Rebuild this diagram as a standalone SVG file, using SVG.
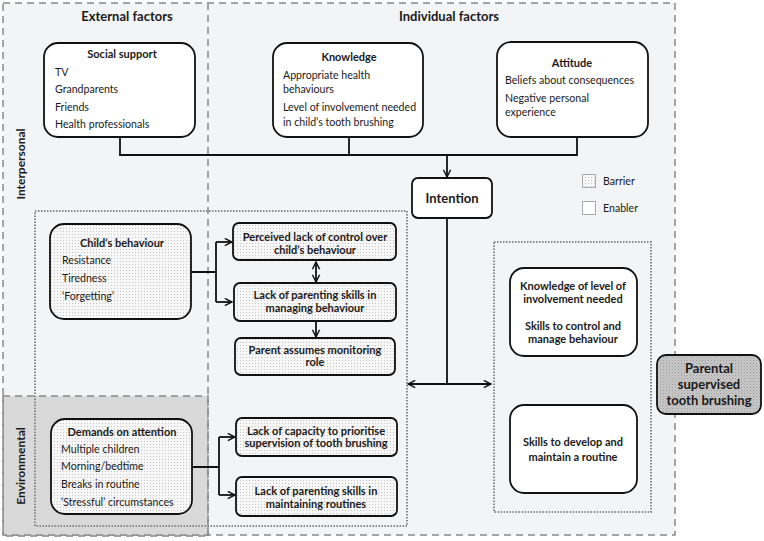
<svg xmlns="http://www.w3.org/2000/svg" width="764" height="541" viewBox="0 0 764 541">
<style>
text{font-family:Lato,"Liberation Sans",sans-serif;fill:#1a1a1a;}
.t{font-size:10.6px;}
.b{font-size:11px;font-weight:bold;}
.h{font-size:13px;font-weight:bold;}
.m{text-anchor:middle;}
.box{stroke:#111;stroke-width:1.8;}
.en{fill:#fff;}
.ba{fill:url(#dots);}
.dash{fill:none;stroke:#888;stroke-width:1.5;stroke-dasharray:7 5;}
.dot{fill:none;stroke:#888;stroke-width:2;stroke-dasharray:1.5 1.5;}
.c{fill:none;stroke:#111;stroke-width:1.8;}
</style>
<defs>
<pattern id="dots" width="3" height="3" patternUnits="userSpaceOnUse"><rect width="3" height="3" fill="#f7f7f7"/><rect width="1" height="1" fill="#c4c4c4"/></pattern>
<pattern id="dots2" width="3" height="3" patternUnits="userSpaceOnUse"><rect width="3" height="3" fill="#c9c9c9"/><rect width="1" height="1" fill="#9a9a9a"/><rect x="1.5" y="1.5" width="1" height="1" fill="#a8a8a8"/></pattern>
<marker id="ah" viewBox="0 0 10 10" refX="9" refY="5" markerWidth="5" markerHeight="5" orient="auto-start-reverse" markerUnits="strokeWidth"><path d="M1,1 L9,5 L1,9" fill="none" stroke="#111" stroke-width="1.6"/></marker>
</defs>
<rect width="764" height="541" fill="#fff"/>
<g id="regions">
<rect x="3" y="3" width="672" height="532" fill="#f3f4f6"/>
<rect x="3" y="396" width="205" height="140" fill="#d9d9d9"/>
<rect x="3" y="3" width="672" height="532" class="dash"/>
<rect x="3" y="396" width="205" height="140" class="dash"/>
<line x1="208" y1="3" x2="208" y2="536" class="dash"/>
<rect x="35" y="211" width="372" height="315" class="dot"/>
<rect x="494" y="242" width="157" height="270" class="dot"/>
<text x="127" y="21" class="h m">External factors</text>
<text x="449" y="21" class="h m">Individual factors</text>
<text transform="translate(25,164) rotate(-90)" class="b m" style="font-size:12px">Interpersonal</text>
<text transform="translate(25,466) rotate(-90)" class="b m" style="font-size:12px">Environmental</text>
</g>
<g id="legend">
<rect x="582.5" y="174.5" width="13" height="13" fill="url(#dots)" stroke="#aaa" stroke-width="1"/>
<text x="603" y="185" class="t">Barrier</text>
<rect x="582.5" y="201.5" width="13" height="13" fill="#fff" stroke="#aaa" stroke-width="1"/>
<text x="603" y="212" class="t">Enabler</text>
</g>
<g id="connectors">
<path d="M120,137 V155 H577 V137 M349,137 V155" class="c"/>
<path d="M447,155 V177" class="c" marker-end="url(#ah)"/>
<path d="M447,218 V384" class="c"/>
<path d="M408,384 H491" class="c" marker-start="url(#ah)" marker-end="url(#ah)"/>
<path d="M191,272 H216 M216,242 V302" class="c"/>
<path d="M216,242 H232" class="c" marker-end="url(#ah)"/>
<path d="M216,302 H232" class="c" marker-end="url(#ah)"/>
<path d="M316,262 V282" class="c" marker-start="url(#ah)" marker-end="url(#ah)"/>
<path d="M316,321 V337" class="c" marker-end="url(#ah)"/>
<path d="M192,467 H219 M219,437 V495" class="c"/>
<path d="M219,437 H235" class="c" marker-end="url(#ah)"/>
<path d="M219,495 H235" class="c" marker-end="url(#ah)"/>
</g>
<g id="social-support">
<rect x="44" y="43" width="151" height="94" rx="14" class="box en"/>
<text x="122" y="58" class="b m">Social support</text>
<text x="55" y="76" class="t">TV</text>
<text x="55" y="93" class="t">Grandparents</text>
<text x="55" y="111" class="t">Friends</text>
<text x="55" y="128" class="t">Health professionals</text>
</g>
<g id="knowledge">
<rect x="273" y="43" width="150" height="94" rx="14" class="box en"/>
<text x="349" y="61" class="b m">Knowledge</text>
<text x="283" y="79" class="t">Appropriate health</text>
<text x="283" y="93" class="t">behaviours</text>
<text x="283" y="111" class="t">Level of involvement needed</text>
<text x="283" y="126" class="t">in child’s tooth brushing</text>
</g>
<g id="attitude">
<rect x="497" y="42" width="151" height="95" rx="14" class="box en"/>
<text x="572" y="67" class="b m">Attitude</text>
<text x="505" y="84" class="t">Beliefs about consequences</text>
<text x="505" y="102" class="t">Negative personal</text>
<text x="505" y="116" class="t">experience</text>
</g>
<g id="intention">
<rect x="412" y="178" width="80" height="40" rx="6" class="box en"/>
<text x="452" y="203" class="h m">Intention</text>
</g>
<g id="childs-behaviour">
<rect x="50" y="224" width="141" height="95" rx="14" class="box ba"/>
<text x="122" y="247" class="b m">Child’s behaviour</text>
<text x="62" y="264" class="t">Resistance</text>
<text x="62" y="282" class="t">Tiredness</text>
<text x="62" y="300" class="t">‘Forgetting’</text>
</g>
<g id="perceived-lack">
<rect x="233" y="223" width="163" height="37" rx="6" class="box ba"/>
<text x="315" y="241" class="b m">Perceived lack of control over</text>
<text x="315" y="254" class="b m">child’s behaviour</text>
</g>
<g id="lack-managing">
<rect x="234" y="283" width="162" height="38" rx="6" class="box ba"/>
<text x="315" y="299" class="b m">Lack of parenting skills in</text>
<text x="315" y="312" class="b m">managing behaviour</text>
</g>
<g id="parent-monitoring">
<rect x="235" y="338" width="160" height="37" rx="6" class="box ba"/>
<text x="315" y="354" class="b m">Parent assumes monitoring</text>
<text x="315" y="366" class="b m">role</text>
</g>
<g id="demands">
<rect x="51" y="419" width="141" height="95" rx="14" class="box ba"/>
<text x="122" y="436" class="b m">Demands on attention</text>
<text x="61" y="453" class="t">Multiple children</text>
<text x="61" y="470" class="t">Morning/bedtime</text>
<text x="61" y="488" class="t">Breaks in routine</text>
<text x="61" y="506" class="t">‘Stressful’ circumstances</text>
</g>
<g id="lack-capacity">
<rect x="236" y="418" width="161" height="38" rx="6" class="box ba"/>
<text x="316" y="435" class="b m">Lack of capacity to prioritise</text>
<text x="316" y="447" class="b m">supervision of tooth brushing</text>
</g>
<g id="lack-routines">
<rect x="236" y="477" width="161" height="39" rx="6" class="box ba"/>
<text x="316" y="495" class="b m">Lack of parenting skills in</text>
<text x="316" y="508" class="b m">maintaining routines</text>
</g>
<g id="knowledge-skills">
<rect x="510" y="268" width="127" height="88" rx="14" class="box en"/>
<text x="573" y="290" class="b m">Knowledge of level of</text>
<text x="573" y="303" class="b m">involvement needed</text>
<text x="573" y="330" class="b m">Skills to control and</text>
<text x="573" y="343" class="b m">manage behaviour</text>
</g>
<g id="routine-skills">
<rect x="510" y="405" width="127" height="88" rx="14" class="box en"/>
<text x="573" y="446" class="b m">Skills to develop and</text>
<text x="573" y="461" class="b m">maintain a routine</text>
</g>
<g id="parental-supervised">
<rect x="657" y="355" width="104" height="59" rx="9" fill="url(#dots2)" class="box"/>
<text x="709" y="373" class="h m">Parental</text>
<text x="709" y="389" class="h m">supervised</text>
<text x="709" y="405" class="h m">tooth brushing</text>
</g>
</svg>
